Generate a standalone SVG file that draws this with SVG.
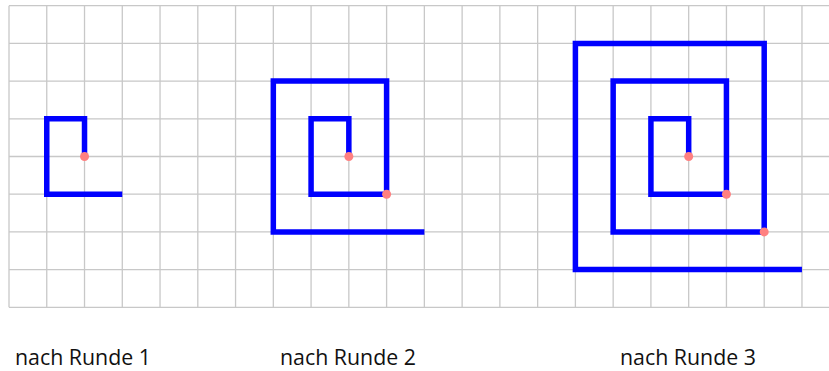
<svg xmlns="http://www.w3.org/2000/svg" width="829" height="371" viewBox="0 0 829 371">
<style>
.grid{stroke:#c8c8c8;stroke-width:1.3;fill:none}
.sp{stroke:#0000ff;stroke-width:5.5;fill:none;stroke-linejoin:miter;stroke-linecap:butt}
.dot{fill:#ff8080}
.lbl{font-family:"Open Sans","Noto Sans",sans-serif;font-size:21px;fill:#111}
</style>
<rect width="829" height="371" fill="#ffffff"/>
<g id="grid">
<path class="grid" d="M9 5.7H829M9 43.4H829M9 81.1H829M9 118.8H829M9 156.5H829M9 194.2H829M9 231.9H829M9 269.6H829M9 307.3H829"/>
<path class="grid" d="M9 5.7V307.3M46.76 5.7V307.3M84.52 5.7V307.3M122.28 5.7V307.3M160.04 5.7V307.3M197.8 5.7V307.3M235.56 5.7V307.3M273.32 5.7V307.3M311.08 5.7V307.3M348.84 5.7V307.3M386.6 5.7V307.3M424.36 5.7V307.3M462.12 5.7V307.3M499.88 5.7V307.3M537.64 5.7V307.3M575.4 5.7V307.3M613.16 5.7V307.3M650.92 5.7V307.3M688.68 5.7V307.3M726.44 5.7V307.3M764.2 5.7V307.3M801.96 5.7V307.3"/>
</g>
<g id="spiral1">
<polyline class="sp" points="84.52,156.5 84.52,118.8 46.76,118.8 46.76,194.2 122.28,194.2"/>
<circle class="dot" cx="84.52" cy="156.5" r="4.5"/>
</g>
<g id="spiral2">
<polyline class="sp" points="348.84,156.5 348.84,118.8 311.08,118.8 311.08,194.2 386.6,194.2 386.6,81.1 273.32,81.1 273.32,231.9 424.36,231.9"/>
<circle class="dot" cx="348.84" cy="156.5" r="4.5"/>
<circle class="dot" cx="386.6" cy="194.2" r="4.5"/>
</g>
<g id="spiral3">
<polyline class="sp" points="688.68,156.5 688.68,118.8 650.92,118.8 650.92,194.2 726.44,194.2 726.44,81.1 613.16,81.1 613.16,231.9 764.2,231.9 764.2,43.4 575.4,43.4 575.4,269.6 801.96,269.6"/>
<circle class="dot" cx="688.68" cy="156.5" r="4.5"/>
<circle class="dot" cx="726.44" cy="194.2" r="4.5"/>
<circle class="dot" cx="764.2" cy="231.9" r="4.5"/>
</g>
<g id="labels">
<text class="lbl" x="15" y="365" textLength="136" lengthAdjust="spacingAndGlyphs">nach Runde 1</text>
<text class="lbl" x="280" y="365" textLength="136" lengthAdjust="spacingAndGlyphs">nach Runde 2</text>
<text class="lbl" x="620" y="365" textLength="136" lengthAdjust="spacingAndGlyphs">nach Runde 3</text>
</g>
</svg>
